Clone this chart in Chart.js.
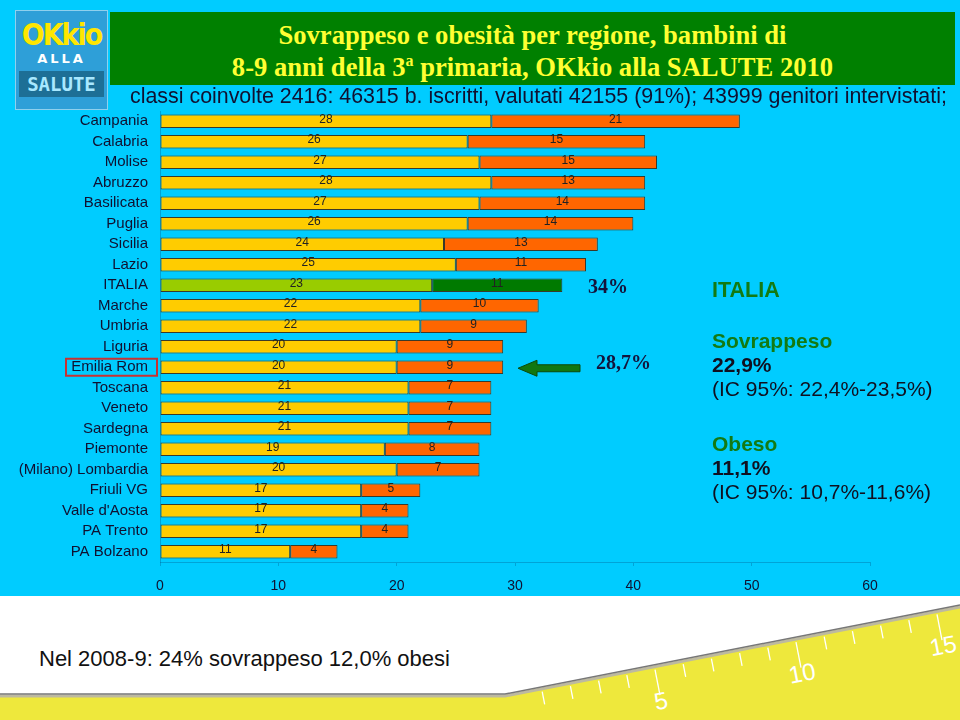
<!DOCTYPE html>
<html>
<head>
<meta charset="utf-8">
<script src="https://cdn.jsdelivr.net/npm/chart.js@4.4.1/dist/chart.umd.min.js"></script>
<style>
body{margin:0;width:960px;height:720px;overflow:hidden;background:#fff;position:relative;font-family:Arial,"Liberation Sans",sans-serif}
#sfondo{position:absolute;left:0;top:0;width:960px;height:596px;background:#00CCFF}
#banda{position:absolute;left:110px;top:12px;width:845px;height:73px;background:#008000}
#titolo{position:absolute;left:110px;top:19px;width:845px;text-align:center;font:bold 26.6px "Liberation Serif","Times New Roman",serif;line-height:32px;color:#FFFF33}
#titolo sup{font-size:60%;vertical-align:baseline;position:relative;top:-0.6em}
#sottotitolo{position:absolute;left:130px;top:84px;font-size:21.4px;line-height:24px;color:#101030;white-space:nowrap;z-index:2}
#logo{position:absolute;left:15px;top:10px;width:91px;height:98px;background:#2e9fd8;border:1px solid #8fd0ee;text-align:center;overflow:hidden}
#logo .a{font:bold 30px "DejaVu Sans Condensed","DejaVu Sans",sans-serif;color:#FFE600;margin-top:8px;letter-spacing:-2px;line-height:32px}
#logo .b{font:bold 13px "DejaVu Sans",sans-serif;color:#fff;line-height:16px;letter-spacing:3px}
#logo .c{font:bold 19px "DejaVu Sans Mono",monospace;color:#a8e8ff;background:#1d6f96;margin:4px 3px 0;line-height:26px}
#grafico-box{position:absolute;left:0;top:90px;width:960px;height:510px;z-index:1}
#info{position:absolute;left:712px;top:278px;color:#101020;font-size:21px;line-height:24px;z-index:2}
#info .v{color:#137a13;font-weight:bold}
#info .n{font-weight:bold}
#nota{position:absolute;left:39px;top:646px;font-size:22px;color:#111}
#righello{position:absolute;left:0;top:596px}
</style>
</head>
<body>
<div id="sfondo"></div>
<div id="banda"></div>
<div id="titolo">Sovrappeso e obesità per regione, bambini di<br>8-9 anni della 3<sup>a</sup> primaria, OKkio alla SALUTE 2010</div>
<div id="logo"><div class="a">OKkio</div><div class="b">ALLA</div><div class="c">SALUTE</div></div>
<div id="sottotitolo">classi coinvolte 2416: 46315 b. iscritti, valutati 42155 (91%); 43999 genitori intervistati;</div>
<div id="grafico-box"><canvas id="grafico"></canvas></div>
<div id="info">
<div class="v" style="font-size:21.5px">ITALIA</div>
<div style="height:27px"></div>
<div class="v">Sovrappeso</div>
<div class="n">22,9%</div>
<div>(IC 95%: 22,4%-23,5%)</div>
<div style="height:31px"></div>
<div class="v">Obeso</div>
<div class="n">11,1%</div>
<div>(IC 95%: 10,7%-11,6%)</div>
</div>
<div id="nota">Nel 2008-9: 24% sovrappeso 12,0% obesi</div>
<svg id="righello" width="960" height="124"></svg>
<script>
const regioni = ["Campania","Calabria","Molise","Abruzzo","Basilicata","Puglia","Sicilia","Lazio","ITALIA","Marche","Umbria","Liguria","Emilia Rom","Toscana","Veneto","Sardegna","Piemonte","(Milano) Lombardia","Friuli VG","Valle d'Aosta","PA Trento","PA Bolzano"];
const sovrappeso = [28,26,27,28,27,26,24,25,23,22,22,20,20,21,21,21,19,20,17,17,17,11];
const obesi = [21,15,15,13,14,14,13,11,11,10,9,9,9,7,7,7,8,7,5,4,4,4];
const tickX = [0,10,20,30,40,50,60];

const coloreSovr = regioni.map(r => r == "ITALIA" ? "#99CC00" : "#FFCC00");
const coloreOb = regioni.map(r => r == "ITALIA" ? "#007A00" : "#FF6600");

const etichette = {
id:"etichette",
afterDatasetsDraw(chart){
const ctx = chart.ctx;
const y = chart.scales.y;
ctx.save();
ctx.font = "12px Arial";
ctx.fillStyle = "#222";
ctx.textAlign = "center";
ctx.textBaseline = "middle";
chart.data.datasets.forEach((ds,i) => {
chart.getDatasetMeta(i).data.forEach((bar,j) => {
ctx.fillText(ds.data[j], (bar.base + bar.x)/2, bar.y - 2);
});
});

// riquadro rosso su Emilia Rom
const yE = y.getPixelForValue(regioni.indexOf("Emilia Rom"));
ctx.strokeStyle = "#C83232";
ctx.lineWidth = 2;
ctx.strokeRect(66, yE - 8.5, 91, 17);

// freccia verde
const ya = yE + 1;
ctx.beginPath();
ctx.moveTo(518, ya);
ctx.lineTo(537, ya - 8);
ctx.lineTo(537, ya - 3.5);
ctx.lineTo(580, ya - 3.5);
ctx.lineTo(580, ya + 3.5);
ctx.lineTo(537, ya + 3.5);
ctx.lineTo(537, ya + 8);
ctx.closePath();
ctx.fillStyle = "#117711";
ctx.fill();
ctx.strokeStyle = "#0b4a0b";
ctx.lineWidth = 1;
ctx.stroke();

// percentuali
const yI = y.getPixelForValue(regioni.indexOf("ITALIA"));
ctx.font = "bold 20px 'Liberation Serif'";
ctx.fillStyle = "#14143c";
ctx.textAlign = "left";
ctx.fillText("34%", 588, yI + 3);
ctx.fillText("28,7%", 596, yE - 3);
ctx.restore();
}
};

const config = {
type:"bar",
data:{
labels:regioni,
datasets:[{
label:"Sovrappeso",
data:sovrappeso,
backgroundColor:coloreSovr,
borderColor:"#3a3a2a",
borderWidth:1,
borderSkipped:false
},{
label:"Obesi",
data:obesi,
backgroundColor:coloreOb,
borderColor:"#3a3a2a",
borderWidth:1,
borderSkipped:false
}]
},
options:{
indexAxis:"y",
responsive:true,
maintainAspectRatio:false,
animation:false,
layout:{padding:{top:0,right:90,left:0,bottom:0}},
plugins:{legend:{display:false},tooltip:{enabled:false}},
scales:{
x:{
stacked:true,
min:0,max:60,
afterBuildTicks:s => { s.ticks = tickX.map(v => ({value:v})); },
afterFit:s => { s.height = 38; },
grid:{display:true,drawOnChartArea:false,drawTicks:true,tickLength:4,color:"rgba(0,90,140,0.35)"},
border:{color:"rgba(0,90,140,0.35)"},
ticks:{color:"#101030",font:{family:"Arial",size:14},padding:12}
},
y:{
stacked:true,
afterFit:s => { s.width = 160; },
grid:{display:false,drawTicks:false},
border:{color:"rgba(0,90,140,0.35)"},
ticks:{color:"#101030",font:{family:"Arial",size:15},padding:12,autoSkip:false}
}
},
datasets:{bar:{categoryPercentage:1,barPercentage:0.67}}
},
plugins:[etichette]
};

new Chart(document.getElementById("grafico"), config);

// righello decorativo in basso
const svg = document.getElementById("righello");
const ns = "http://www.w3.org/2000/svg";
function el(n, a){ const e = document.createElementNS(ns, n); for(const k in a) e.setAttribute(k, a[k]); svg.appendChild(e); return e; }
el("polygon",{points:"0,99 505,99 960,10 960,124 0,124",fill:"#EEE83C"});
el("polyline",{points:"0,100 505,100 960,11",fill:"none",stroke:"#bdb9a0","stroke-width":3});
el("polyline",{points:"0,98 505,98 960,9",fill:"none",stroke:"#777","stroke-width":1.5});
const dx = 0.192, dy = 0.981;
for(let k=1;k<=16;k++){
const x = 514 + 28.2*k;
if(x > 958) break;
const ye = 99 - (x-505)*(89/455) + 4;
const len = (k%5==0) ? 26 : 13;
el("line",{x1:x,y1:ye,x2:x+dx*len,y2:ye+dy*len,stroke:"#fff","stroke-width":1.3});
if(k%5==0){
const t = el("text",{x:x+dx*40,y:ye+dy*40,fill:"#fff","font-size":24,"font-family":"Arial","text-anchor":"middle",transform:"rotate(-11 "+(x+dx*40)+" "+(ye+dy*40)+")"});
t.textContent = k;
}
}
</script>
</body>
</html>
